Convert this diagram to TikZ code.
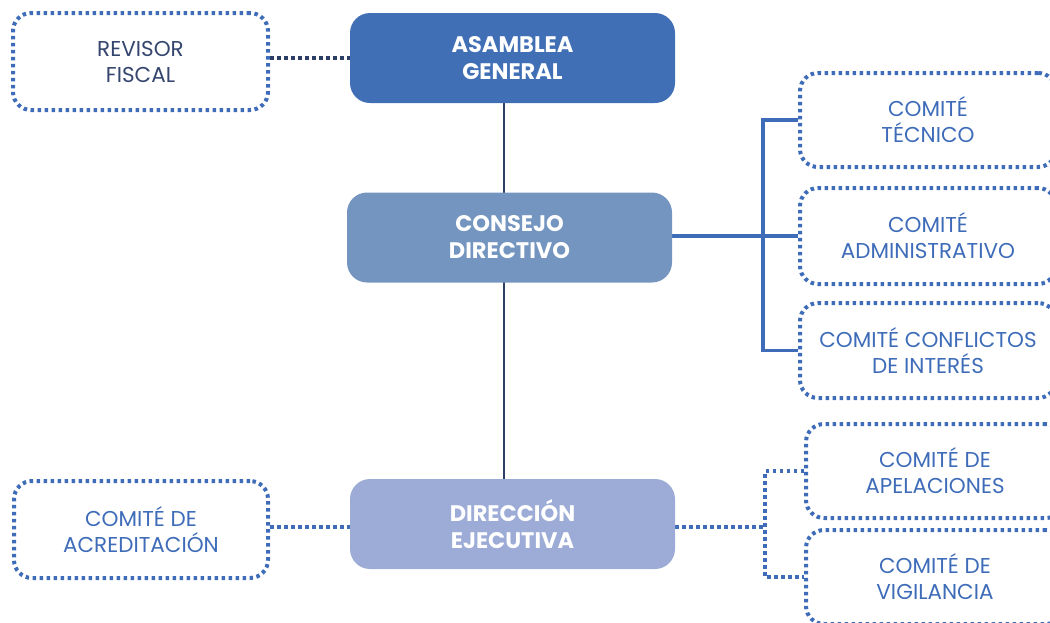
\documentclass[tikz,border=0pt]{standalone}
\usepackage{fontspec}
\setmainfont{Poppins}
\usetikzlibrary{backgrounds}
\definecolor{cA}{HTML}{416FB6}
\definecolor{cB}{HTML}{7495BF}
\definecolor{cC}{HTML}{9DACD6}
\definecolor{cT}{HTML}{3E6CB8}
\definecolor{cN}{HTML}{2C3E66}
\definecolor{cR}{HTML}{34456E}
\tikzset{
  mainbox/.style={rounded corners=20pt, minimum width=325pt, minimum height=90pt, text=white, align=center, font=\fontsize{22.5}{27}\selectfont\bfseries, inner sep=0pt},
  dotbox/.style={draw=cT, line width=4pt, dash pattern=on 3.5pt off 3.5pt, rounded corners=18pt, align=center, font=\fontsize{21.5}{26}\selectfont, text=cT, inner sep=0pt},
  solidlink/.style={draw=cT, line width=3.2pt},
  dotlink/.style={draw=cT, line width=3.2pt, dash pattern=on 3.5pt off 3.5pt},
}
\begin{document}
\begin{tikzpicture}[x=1pt,y=-1pt]
\useasboundingbox (0,0) rectangle (1050,622);
\clip (0,0) rectangle (1050,622);
% main boxes
\node[mainbox, fill=cA] (ag) at (512.5,58) {ASAMBLEA\\GENERAL};
\node[mainbox, fill=cB] (cd) at (509.5,237.5) {CONSEJO\\DIRECTIVO};
\node[mainbox, fill=cC] (de) at (512.5,524) {DIRECCIÓN\\EJECUTIVA};
% left boxes
\node[dotbox, minimum width=255pt, minimum height=97pt, text=cR] (rf) at (140.5,61.5) {REVISOR\\FISCAL};
\node[dotbox, minimum width=254pt, minimum height=97pt] (ca) at (141,529.5) {COMITÉ DE\\ACREDITACIÓN};
% right boxes
\node[dotbox, minimum width=256pt, minimum height=94pt] (ct) at (928,120) {COMITÉ\\TÉCNICO};
\node[dotbox, minimum width=256pt, minimum height=96pt] (cad) at (928,236) {COMITÉ\\ADMINISTRATIVO};
\node[dotbox, minimum width=256pt, minimum height=95pt] (cci) at (928,350.5) {COMITÉ CONFLICTOS\\DE INTERÉS};
\node[dotbox, minimum width=258pt, minimum height=94pt] (cap) at (935,471) {COMITÉ DE\\APELACIONES};
\node[dotbox, minimum width=258pt, minimum height=94pt] (cv) at (935,577) {COMITÉ DE\\VIGILANCIA};
% connectors
\coordinate (vx) at (504,0);
\coordinate (b1) at (763,236);
\coordinate (b2) at (765,527);
\begin{pgfonlayer}{background}
\draw[draw=cN, line width=2.2pt] (ag.south -| vx) -- (de.north -| vx);
\draw[draw=cN, line width=4pt, dash pattern=on 3.5pt off 3.5pt] (rf.east |- ag.west) -- (ag.west);
\draw[solidlink] (cd.east |- b1) -- (cad.west);
\draw[solidlink] (ct.west) -| (b1) |- (cci.west);
\draw[dotlink] (ca.east |- b2) -- (de.west |- b2);
\draw[dotlink] (de.east |- b2) -- (b2);
\draw[dotlink, line width=4pt] (cap.west) -| (b2) |- (cv.west);
\end{pgfonlayer}
\end{tikzpicture}
\end{document}
